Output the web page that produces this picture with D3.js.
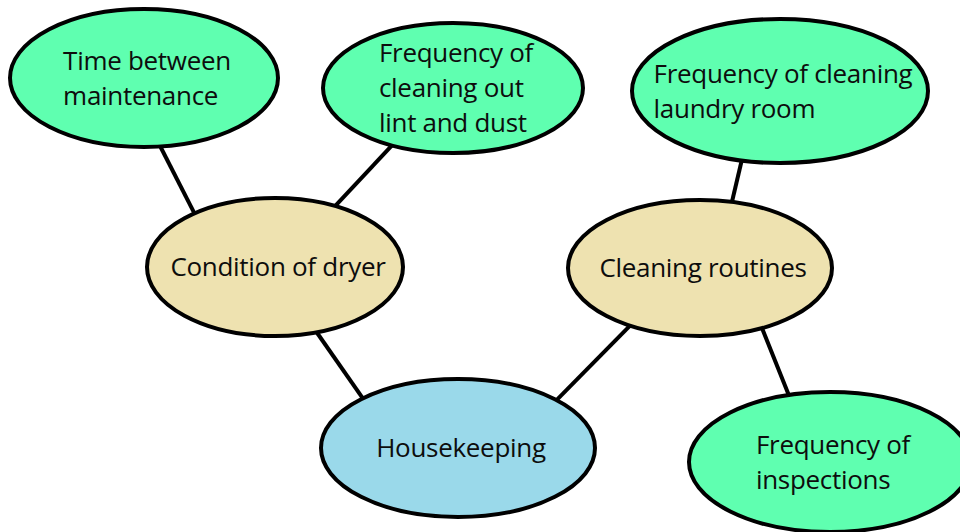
<!DOCTYPE html>
<html>
<head>
<meta charset="utf-8">
<script src="https://cdn.jsdelivr.net/npm/d3@7"></script>
<style>
  body { margin: 0; background: #fff; }
  svg { display: block; }
  .label { font-family: "Open Sans", sans-serif; font-size: 26px; letter-spacing: -0.3px; fill: #0d0d0d; }
</style>
</head>
<body>
<div id="map"></div>
<script>
// Concept map data
// ================

// node labels (one entry per text line)
var nodeLabels = [
  ["Time between", "maintenance"],
  ["Frequency of", "cleaning out", "lint and dust"],
  ["Frequency of cleaning", "laundry room"],
  ["Condition of dryer"],
  ["Cleaning routines"],
  ["Housekeeping"],
  ["Frequency of", "inspections"]
];

// node kind: 0 = factor, 1 = sub-topic, 2 = topic
var nodeKind = [0, 0, 0, 1, 1, 2, 0];

// node centres and radii on the layout grid
var nodeX = [144, 453, 780, 275, 700, 458, 830];
var nodeY = [78, 88, 91, 267, 268, 448, 462];
var nodeRX = [134, 130, 148, 128, 132, 137, 141];
var nodeRY = [69, 65, 72, 69, 68, 69, 70];

// links: source, target, and where each end leaves its ellipse (degrees)
var linkSource = [0, 1, 2, 3, 4, 4];
var linkTarget = [3, 3, 4, 5, 5, 6];
var linkSourceAngle = [83, 118, 105, 71, 122, 62];
var linkTargetAngle = [231, 298, 284, 226, 316, 253];

// Setup
// =====
var width = 960;
var height = 532;

var svg = d3.select("#map")
  .append("svg")
  .attr("width", width)
  .attr("height", height);

var x = d3.scaleLinear().domain([0, 960]).range([0, width]);
var y = d3.scaleLinear().domain([0, 532]).range([0, height]);

var kindColor = d3.scaleOrdinal()
  .domain([0, 1, 2])
  .range(["#5fffb0", "#eee2b0", "#9ad9ea"]);

// point on the edge of node i at angle a
function edgePoint(i, a) {
  var t = a * Math.PI / 180;
  return [
    x(nodeX[i] + nodeRX[i] * Math.cos(t)),
    y(nodeY[i] + nodeRY[i] * Math.sin(t))
  ];
}

var links = linkSource.map(function(s, i) {
  return {
    a: edgePoint(s, linkSourceAngle[i]),
    b: edgePoint(linkTarget[i], linkTargetAngle[i])
  };
});

// lines first so the ellipses sit on top
svg.append("g")
  .selectAll("line")
  .data(links)
  .join("line")
  .attr("x1", function(d) { return d.a[0]; })
  .attr("y1", function(d) { return d.a[1]; })
  .attr("x2", function(d) { return d.b[0]; })
  .attr("y2", function(d) { return d.b[1]; })
  .attr("stroke", "#000")
  .attr("stroke-width", 4);

var nodes = svg.append("g")
  .selectAll("g")
  .data(nodeLabels)
  .join("g");

nodes.append("ellipse")
  .attr("cx", function(d, i) { return x(nodeX[i]); })
  .attr("cy", function(d, i) { return y(nodeY[i]); })
  .attr("rx", function(d, i) { return x(nodeRX[i]); })
  .attr("ry", function(d, i) { return y(nodeRY[i]); })
  .attr("fill", function(d, i) { return kindColor(nodeKind[i]); })
  .attr("stroke", "#000")
  .attr("stroke-width", 4);

var lineGap = 35;

// text block is left aligned, centred as a block in the ellipse
nodes.each(function(lines, i) {
  var g = d3.select(this);
  var texts = g.selectAll("text")
    .data(lines)
    .join("text")
    .attr("class", "label")
    .attr("y", function(d, j) {
      return y(nodeY[i]) + 9 + (j - (lines.length - 1) / 2) * lineGap;
    })
    .text(function(d) { return d; });

  var widest = d3.max(texts.nodes(), function(n) { return n.getComputedTextLength(); });
  texts.attr("x", x(nodeX[i]) + 3 - widest / 2);
});
</script>
</body>
</html>
